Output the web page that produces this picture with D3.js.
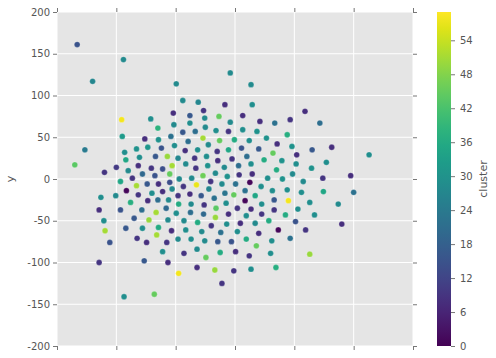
<!DOCTYPE html>
<html>
<head>
<meta charset="utf-8">
<script src="https://cdn.jsdelivr.net/npm/d3@7"></script>
<style>
  body { margin: 0; background: #fff; }
  text { font-family: "DejaVu Sans", sans-serif; }
</style>
</head>
<body>
<script>
// points (x has no labels, so its units are arbitrary)
var xValues = [-266,-188,-240,-99,
  -104,-191,-142,-103,-130,-190,-152,-129,-108,-253,-186,-166,-147,-124,-102,-270,-184,-161,-134,-114,-96,-220,-200,-180,-163,-141,-122,-106,-156,-135,-110,-94,-193,-173,-166,-148,-129,-110,
  -8,27,-88,-62,-17,29,-53,-76,-27,-51,13,-76,-8,42,67,93,-50,-88,-67,-32,-11,13,37,88,-79,-54,-26,-1,24,53,71,96,-84,-63,-45,-30,-11,11,40,64,-68,-48,-29,-5,20,49,79,104,-83,-66,-46,-18,6,27,70,103,-73,-54,-33,-13,7,29,55,80,97,-41,-65,-22,1,25,
  118,143,163,130,226,154,129,195,148,115,
  -226,-201,-183,-163,-140,-122,-106,-96,-176,-147,-130,-112,-95,-229,-193,-157,-133,-116,-99,-221,-170,-145,-113,-219,-184,-156,-129,-107,-96,-211,-165,-149,-132,-115,-122,-229,-153,-113,-95,-187,-136,
  -87,44,63,88,-76,-57,-44,-35,-17,-2,17,34,66,90,-74,-52,-32,-15,4,17,27,45,66,-75,-53,-33,-11,19,45,85,106,-86,-63,-40,-14,9,34,57,102,-83,-56,-24,4,40,73,-74,-51,-29,-6,19,62,93,36,-86,-64,-25,1,24,60,-49,-64,-34,-2,27,69,-22,
  112,149,200,126,174,134,180,119,126];
var yValues = [161,143,117,114,
  79,71,72,65,61,51,48,47,51,35,32,36,38,37,40,17,23,26,27,27,25,8,14,10,16,13,12,16,6,4,6,0,-3,1,-8,-6,-6,-4,
  127,113,94,92,89,89,82,76,75,73,76,67,68,69,67,71,62,56,57,58,57,59,57,53,45,49,46,47,46,49,42,39,34,35,41,33,35,37,36,31,25,27,22,24,27,23,22,29,18,13,16,14,16,18,11,18,1,4,7,3,5,6,1,0,6,-3,-7,-6,-6,-4,
  81,67,38,35,29,20,13,4,1,-3,
  -22,-20,-14,-19,-17,-15,-12,-20,-28,-26,-25,-25,-30,-37,-37,-37,-40,-35,-41,-50,-47,-49,-49,-62,-59,-59,-58,-62,-72,-76,-71,-76,-67,-76,-87,-100,-98,-100,-113,-141,-138,
  -9,-9,-14,-13,-18,-20,-12,-23,-17,-19,-14,-20,-25,-26,-30,-31,-35,-29,-35,-26,-36,-30,-37,-40,-42,-46,-42,-44,-42,-43,-36,-50,-52,-56,-54,-53,-53,-50,-51,-61,-63,-64,-63,-65,-61,-72,-74,-75,-75,-72,-74,-71,-80,-89,-84,-88,-87,-92,-89,-94,-106,-109,-110,-108,-106,-125,
  -16,-15,-16,-28,-30,-43,-54,-61,-90];
var clusterValues = [15,28,27,28,
  8,58,29,28,38,32,8,30,22,24,29,30,31,15,29,44,35,29,16,50,27,9,10,28,8,9,14,51,20,15,45,28,35,9,51,16,8,14,
  28,28,28,27,8,29,9,16,45,28,8,29,28,8,22,9,28,16,21,29,9,29,30,37,21,51,45,36,29,30,8,30,8,29,28,9,35,15,16,45,9,29,8,9,21,36,30,8,28,9,30,28,21,29,36,29,28,46,28,30,9,8,29,30,28,9,57,28,22,1,
  8,21,8,16,29,29,30,8,9,28,
  29,28,1,9,29,8,28,9,37,8,21,28,36,8,15,21,51,20,29,29,16,50,28,51,16,29,36,8,28,15,9,8,51,9,29,9,16,8,58,29,45,
  9,29,29,29,8,16,27,22,23,45,22,35,16,58,28,9,44,29,9,1,8,29,9,21,20,50,8,29,9,36,29,28,36,9,29,8,28,36,15,29,28,22,29,8,1,29,28,16,15,36,29,22,45,9,28,36,8,9,29,45,8,50,9,29,37,9,
  29,35,22,29,28,29,8,9,50];

var yTicks = [-200, -150, -100, -50, 0, 50, 100, 150, 200];
var xTicks = [-300, -200, -100, 0, 100, 200, 300];
var clusterTicks = [0, 6, 12, 18, 24, 30, 36, 42, 48, 54];

var svg_width = 496;
var svg_height = 358;
var plot = {left: 57, right: 413, top: 12, bottom: 346};
var bar = {left: 437, right: 451};

var svg = d3.select("body").append("svg")
  .attr("width", svg_width)
  .attr("height", svg_height);

var x = d3.scaleLinear().domain([-300, 300]).range([plot.left, plot.right]);
var y = d3.scaleLinear().domain([-200, 200]).range([plot.bottom, plot.top]);
var color = d3.scaleSequential(d3.interpolateViridis).domain([0, 59]);

svg.append("rect")
  .attr("x", plot.left).attr("y", plot.top)
  .attr("width", plot.right - plot.left).attr("height", plot.bottom - plot.top)
  .attr("fill", "#e5e5e5");

// grid
svg.append("g").selectAll("line").data(yTicks).enter().append("line")
  .attr("x1", plot.left).attr("x2", plot.right)
  .attr("y1", d => y(d)).attr("y2", d => y(d))
  .attr("stroke", "#fff").attr("stroke-width", 1);
svg.append("g").selectAll("line").data(xTicks).enter().append("line")
  .attr("y1", plot.top).attr("y2", plot.bottom)
  .attr("x1", d => x(d)).attr("x2", d => x(d))
  .attr("stroke", "#fff").attr("stroke-width", 1);

// axes: ticks outside on all four sides, labels only on the left
function styleAxis(g) {
  g.select(".domain").remove();
  g.selectAll(".tick line").attr("stroke", "#777");
  g.selectAll(".tick text").attr("fill", "#555").style("font-size", "10px")
    .style("font-family", "DejaVu Sans, sans-serif");
}
svg.append("g").attr("transform", `translate(${plot.left},0)`)
  .call(d3.axisLeft(y).tickValues(yTicks).tickSize(4).tickPadding(3).tickFormat(d => String(d)))
  .call(styleAxis);
svg.append("g").attr("transform", `translate(${plot.right},0)`)
  .call(d3.axisRight(y).tickValues(yTicks).tickSize(4).tickFormat(""))
  .call(styleAxis);
svg.append("g").attr("transform", `translate(0,${plot.bottom})`)
  .call(d3.axisBottom(x).tickValues(xTicks).tickSize(4).tickFormat(""))
  .call(styleAxis);
svg.append("g").attr("transform", `translate(0,${plot.top})`)
  .call(d3.axisTop(x).tickValues(xTicks).tickSize(4).tickFormat(""))
  .call(styleAxis);

svg.append("text")
  .attr("transform", `translate(14,${(plot.top + plot.bottom) / 2}) rotate(-90)`)
  .attr("text-anchor", "middle")
  .attr("fill", "#555")
  .style("font-size", "11px")
  .text("y");

// points
svg.append("g").selectAll("circle")
  .data(d3.range(xValues.length))
  .enter().append("circle")
  .attr("cx", i => x(xValues[i]))
  .attr("cy", i => y(yValues[i]))
  .attr("r", 2.9)
  .attr("fill", i => color(clusterValues[i]))
  .attr("stroke", "rgba(255,255,255,0.45)")
  .attr("stroke-width", 0.5);

// colorbar
var defs = svg.append("defs");
var grad = defs.append("linearGradient").attr("id", "viridis")
  .attr("x1", "0%").attr("x2", "0%").attr("y1", "100%").attr("y2", "0%");
d3.range(0, 1.0001, 0.05).forEach(function(t) {
  grad.append("stop").attr("offset", (t * 100) + "%").attr("stop-color", d3.interpolateViridis(t));
});
svg.append("rect")
  .attr("x", bar.left).attr("y", plot.top)
  .attr("width", bar.right - bar.left).attr("height", plot.bottom - plot.top)
  .attr("fill", "url(#viridis)");

var cScale = d3.scaleLinear().domain([0, 59]).range([plot.bottom, plot.top]);
svg.append("g").attr("transform", `translate(${bar.right},0)`)
  .call(d3.axisRight(cScale).tickValues(clusterTicks).tickSize(4).tickPadding(5))
  .call(styleAxis);

svg.append("text")
  .attr("transform", `translate(487,${(plot.top + plot.bottom) / 2}) rotate(-90)`)
  .attr("text-anchor", "middle")
  .attr("fill", "#555")
  .style("font-size", "11px")
  .text("cluster");
</script>
</body>
</html>
